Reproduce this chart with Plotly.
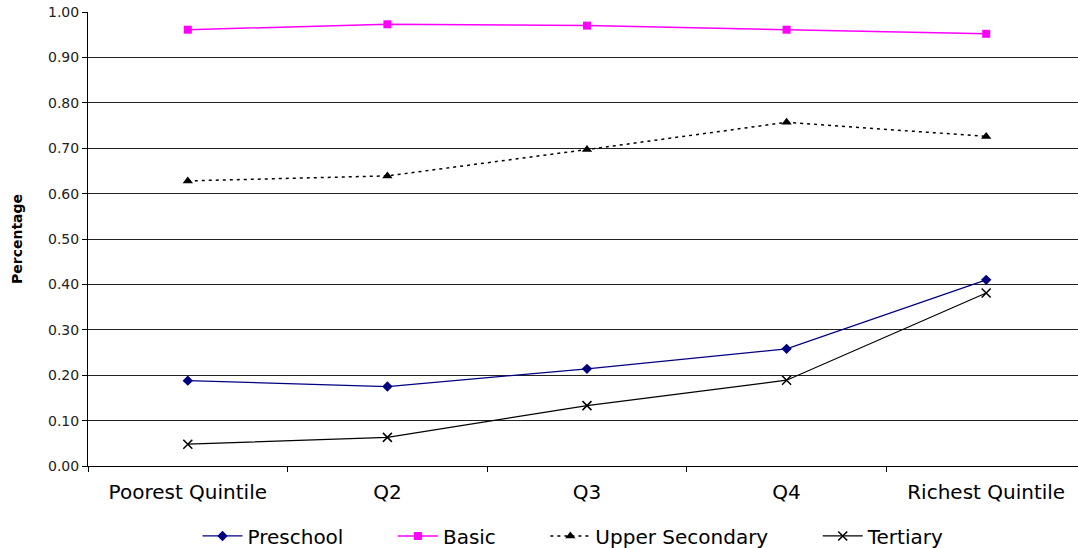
import plotly.graph_objects as go

quintiles = ["Poorest Quintile", "Q2", "Q3", "Q4", "Richest Quintile"]
preschool = [0.188, 0.175, 0.214, 0.258, 0.410]
basic = [0.961, 0.973, 0.970, 0.961, 0.952]
upper_secondary = [0.628, 0.639, 0.697, 0.757, 0.726]
tertiary = [0.048, 0.063, 0.133, 0.189, 0.381]
y_ticks = [round(i * 0.1, 1) for i in range(11)]

FONT = "DejaVu Sans, Liberation Sans, sans-serif"
# extra room after each legend entry
PAD = "&nbsp;" * 7

fig = go.Figure()
fig.add_trace(go.Scatter(
    x=quintiles, y=preschool, name="Preschool" + PAD, mode="lines+markers",
    line=dict(color="#000080", width=1.2),
    marker=dict(symbol="diamond", size=8, color="#000080"),
))
fig.add_trace(go.Scatter(
    x=quintiles, y=basic, name="Basic" + PAD, mode="lines+markers",
    line=dict(color="#FF00FF", width=1.5),
    marker=dict(symbol="square", size=8, color="#FF00FF"),
))
fig.add_trace(go.Scatter(
    x=quintiles, y=upper_secondary, name="Upper Secondary" + PAD, mode="lines+markers",
    line=dict(color="black", width=1.5, dash="3px,4px"),
    marker=dict(symbol="triangle-up", size=9, color="black"),
))
fig.add_trace(go.Scatter(
    x=quintiles, y=tertiary, name="Tertiary", mode="lines+markers",
    line=dict(color="black", width=1.2),
    marker=dict(symbol="x-thin-open", size=9, color="black",
                line=dict(color="black", width=1.5)),
))

fig.update_layout(
    width=1078, height=548,
    margin=dict(l=88, r=0, t=12, b=82),
    paper_bgcolor="white", plot_bgcolor="white",
    font=dict(family=FONT, color="black"),
    showlegend=True,
    legend=dict(
        orientation="h", xref="container", yref="container",
        x=0.532, xanchor="center", y=0.022, yanchor="middle",
        font=dict(size=20, family=FONT, color="black"),
        itemwidth=40, traceorder="normal",
    ),
    xaxis=dict(
        type="category", range=[-0.5, 4.46],
        tickson="boundaries", ticks="outside", ticklen=5, tickcolor="black",
        showline=True, linecolor="black", linewidth=1,
        showgrid=False, zeroline=False,
        ticklabelstandoff=8,
        tickfont=dict(size=20, family=FONT, color="black"),
    ),
    yaxis=dict(
        range=[0, 1.0], tickvals=y_ticks, tickformat=".2f",
        ticks="outside", ticklen=5, tickcolor="black",
        showline=True, linecolor="black", linewidth=1,
        showgrid=True, gridcolor="#222222", gridwidth=1,
        zeroline=False,
        tickfont=dict(size=14, family=FONT, color="#222222"),
        title=dict(text="<b>Percentage</b>", standoff=22,
                   font=dict(size=14, family=FONT, color="black")),
    ),
)

fig.write_html("out.html")
